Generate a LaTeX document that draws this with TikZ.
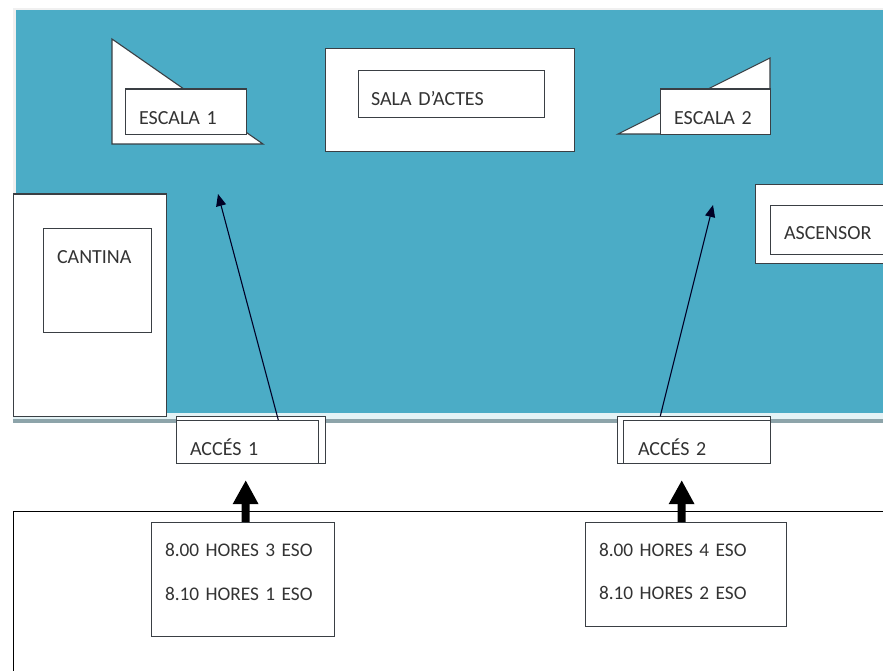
\documentclass[tikz,border=0pt]{standalone}
\usepackage{fontspec}
\setmainfont{Carlito}[WordSpace=0.8]
\usetikzlibrary{arrows.meta}
\definecolor{patio}{HTML}{4BACC6}
\definecolor{edge}{HTML}{3A3F44}
\tikzset{>=Stealth,
  tagbox/.style={draw=edge,fill=white,line width=1.1pt,anchor=north west,
    align=left,inner ysep=0pt,text=black!80,font=\fontsize{20}{20}\selectfont},
  horesbox/.style={tagbox,inner xsep=14pt,font=\fontsize{19.3}{20}\selectfont},
  thinarrow/.style={-{Triangle[width=10pt,length=12pt]},line width=1.1pt,color=black!85!blue},
  bigarrow/.style={-{Triangle[width=24pt,length=24pt]},line width=8pt}}
\begin{document}
\begin{tikzpicture}[x=1pt,y=-1pt]
\clip[use as bounding box] (0,0) rectangle (883,671);
\fill[black!6] (13,8) rectangle (883,413);
\fill[patio] (16,10) rectangle (883,413);
\fill[patio!15] (13,413) rectangle (883,419);
\fill[patio!30!gray!80] (13,419) rectangle (883,423);
\draw[line width=1pt,black] (13,690) -- (13,511) -- (900,511);
\draw[draw=edge,fill=white,line width=1.1pt]
  (112,39) coordinate (S1a) -- (112,144) coordinate (S1b) --
  (263,144) coordinate (S1c) -- cycle;
\draw[draw=edge,fill=white,line width=1.1pt]
  (770,58) coordinate (S2a) -- (770,134) coordinate (S2b) --
  (618,134) coordinate (S2c) -- cycle;
\foreach \name/\x/\y/\w/\h/\pad/\base/\txt in {
  escala1/124.5/88.5/121.5/45.5/14/35/ESCALA 1,
  escala2/659.5/88.5/110.5/45.5/14/35/ESCALA 2,
  salaout/324.5/48/249.5/103/14/50/,
  sala/357.5/70/186.5/47/13/35/SALA D’ACTES,
  ascout/754.5/184/160/79/14/40/,
  ascensor/769.5/205/160/49/14/34/ASCENSOR,
  cantout/12.5/193.5/153.5/222.5/14/40/,
  cantina/42.5/227.5/108.5/104.5/14/35/CANTINA,
  acces1out/175.5/416/149.5/47/14/39/,
  acces1/175.5/420/142.5/43/14/35/ACCÉS 1,
  acces2out/616.5/416/153.5/47/14/39/,
  acces2/622.5/420/147.5/43/15/35/ACCÉS 2}
  \node[tagbox,inner xsep=\pad pt,text width=\w pt-2*\pad pt,
    text height=\base pt,text depth=\h pt-\base pt] (\name) at (\x,\y) {\txt};
\node[horesbox,text width=155pt,text height=34pt,text depth=80pt] (hores1) at (150.5,522)
  {8.00 HORES 3 ESO\\[24pt]8.10 HORES 1 ESO};
\node[horesbox,text width=173pt,text height=34pt,text depth=70pt] (hores2) at (584.5,522)
  {8.00 HORES 4 ESO\\[23pt]8.10 HORES 2 ESO};
\coordinate (pujada1) at (218,194);
\coordinate (pujada2) at (713,205);
\draw[thinarrow] ([xshift=31pt]acces1.north) -- (pujada1);
\draw[thinarrow] ([xshift=-33.5pt]acces2out.north) -- (pujada2);
\draw[bigarrow,shorten >=16pt] ([xshift=3pt]hores1.north) -- ([xshift=-5pt]acces1out.south);
\draw[bigarrow,shorten >=16pt] ([xshift=-4pt]hores2.north) -- ([xshift=-12pt]acces2out.south);
\end{tikzpicture}
\end{document}
